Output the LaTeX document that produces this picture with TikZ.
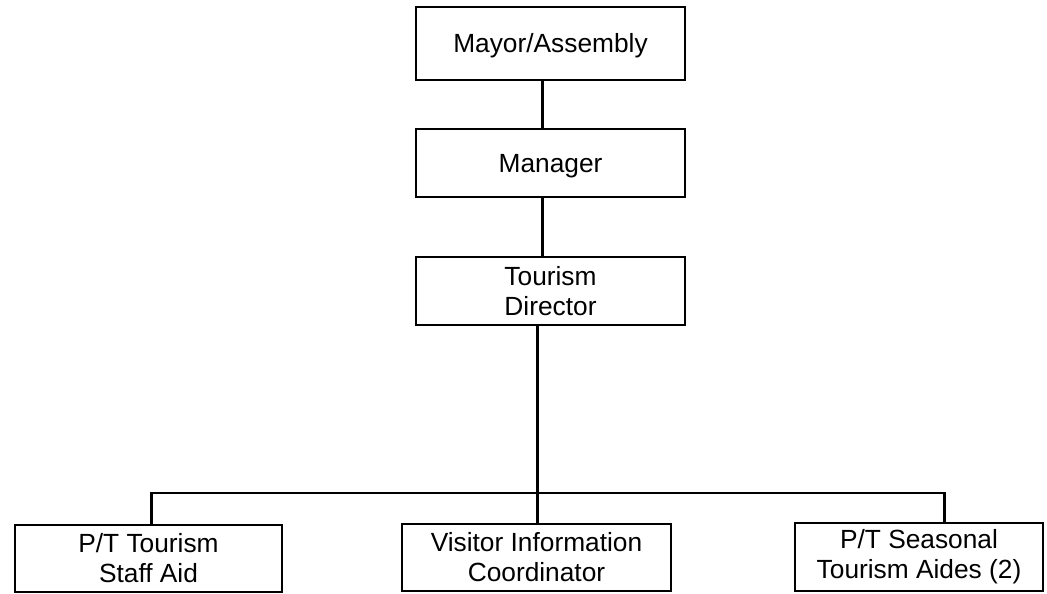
\documentclass[tikz,border=0pt]{standalone}
\usepackage{fontspec}
\setmainfont{Liberation Sans}
\begin{document}
\begin{tikzpicture}[x=1pt,y=-1pt,
  box/.style={draw,line width=2pt,inner sep=0pt,align=center,font=\fontsize{26.3}{30}\selectfont},
  oneline/.style={text height=18.8pt,text depth=0pt},
  link/.style={line width=3pt}]
\useasboundingbox (0,0) rectangle (1047,594);
\node[box,oneline,minimum width=269pt,minimum height=73pt] (mayor) at (550.5,43.5) {Mayor/Assembly};
\node[box,oneline,minimum width=269pt,minimum height=68pt] (mgr) at (550.5,163) {Manager};
\node[box,minimum width=269pt,minimum height=68pt] (td) at (550.5,291) {Tourism\\Director};
\node[box,minimum width=267pt,minimum height=67pt] (left) at (148.5,558.5) {P/T Tourism\\Staff Aid};
\node[box,minimum width=269pt,minimum height=67pt] (mid) at (536.5,557.5) {Visitor Information\\Coordinator};
\node[box,minimum width=248pt,minimum height=68pt] (right) at (919,557) {P/T Seasonal\\Tourism Aides (2)};
\coordinate (bar) at (537.5,493);
\coordinate (barL) at (151,493);
\coordinate (barR) at (944,493);
\draw[link] ([xshift=-8pt]mayor.south) -- ([xshift=-8pt]mgr.north);
\draw[link] ([xshift=-8pt]mgr.south) -- ([xshift=-8pt]td.north);
\draw[link] (td.south -| bar) -- (bar);
\draw[line width=2pt] ([xshift=-1.5pt]barL) -- ([xshift=1.5pt]barR);
\draw[link] (barL) -- (barL |- left.north);
\draw[link] (bar) -- (bar |- mid.north);
\draw[link] (barR) -- (barR |- right.north);
\end{tikzpicture}
\end{document}
